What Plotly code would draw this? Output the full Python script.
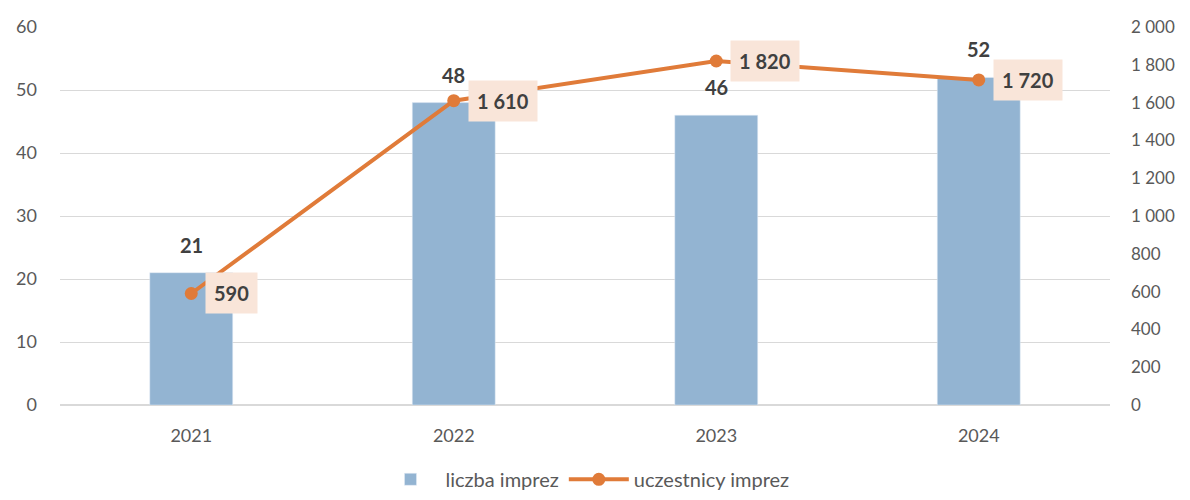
import plotly.graph_objects as go

years = ["2021", "2022", "2023", "2024"]
events = [21, 48, 46, 52]
participants = [590, 1610, 1820, 1720]

left_ticks = [0, 10, 20, 30, 40, 50, 60]
right_ticks = list(range(0, 2001, 200))


def fmt(v):
    # polish style thousands separator
    return f"{v:,}".replace(",", " ")


BAR = "#93B4D2"
LINE = "#E07B39"
TXT = "#404040"
AX = "#595959"

fig = go.Figure()
fig.add_trace(go.Bar(
    x=years, y=events, name="liczba imprez",
    marker_color=BAR, width=0.316,
))
fig.add_trace(go.Scatter(
    x=years, y=participants, name="uczestnicy imprez", yaxis="y2",
    mode="lines+markers",
    line=dict(color=LINE, width=4),
    marker=dict(color=LINE, size=13),
))

# bar value labels (x given as category index)
for i, v in enumerate(events):
    fig.add_annotation(
        x=i, y=v, text=f"<b>{v}</b>", showarrow=False,
        yanchor="bottom", yshift=14, font=dict(size=20, color=TXT),
    )

# value boxes beside line points
for i, v in enumerate(participants):
    fig.add_annotation(
        x=i, y=v, yref="y2", text=f"<b>{fmt(v)}</b>", showarrow=False,
        xanchor="left", xshift=14, bgcolor="#F9E5D9", borderpad=8,
        font=dict(size=20, color=TXT),
    )

# page body adds an 8px offset, so margins are shifted to compensate
fig.update_layout(
    width=1190, height=500,
    margin=dict(l=52, r=88, t=19, b=103, autoexpand=False),
    plot_bgcolor="white", paper_bgcolor="white",
    font=dict(family="Lato", size=17, color=AX),
    showlegend=True,
    legend=dict(orientation="h", x=0.5, xanchor="center", y=-0.145, yanchor="top",
                font=dict(size=20, color=AX), itemwidth=60),
    xaxis=dict(type="category", range=[-0.5, len(years) - 0.5], showgrid=False,
               showline=False, ticks="", tickfont=dict(size=18), automargin=False,
               ticklabelstandoff=18),
    yaxis=dict(range=[0, 60], tickvals=left_ticks, showgrid=True, gridcolor="#D9D9D9",
               gridwidth=1, zeroline=True, zerolinecolor="#D9D9D9", ticklabelstandoff=22,
               tickfont=dict(size=18), automargin=False),
    yaxis2=dict(range=[0, 2000], tickvals=right_ticks, ticktext=[fmt(v) for v in right_ticks],
                overlaying="y", side="right", showgrid=False, zeroline=False,
                ticklabelstandoff=20, tickfont=dict(size=17), automargin=False),
)

fig.write_html("out.html")
